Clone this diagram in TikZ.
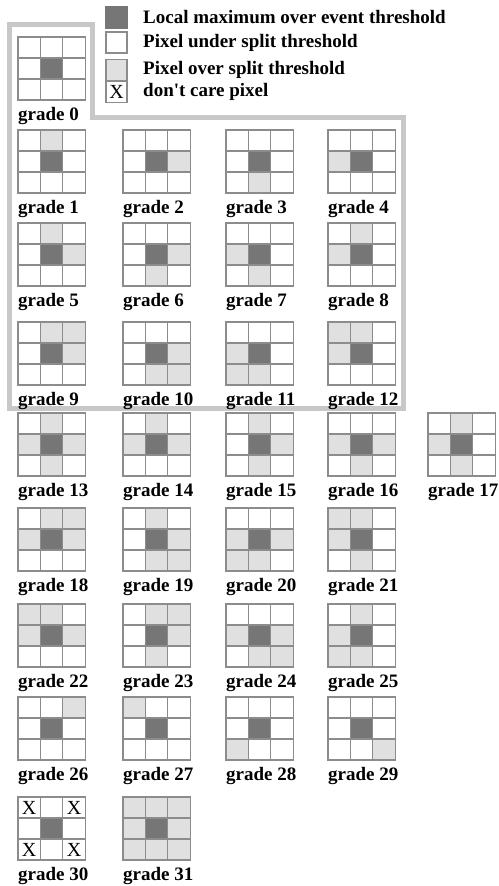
\documentclass[tikz,border=0pt]{standalone}
\usepackage{fontspec}
\setmainfont{Liberation Serif}
\usetikzlibrary{positioning}
\definecolor{gitter}{RGB}{140,140,140}
\definecolor{maxpix}{RGB}{118,118,118}
\definecolor{overpix}{RGB}{224,224,224}
\definecolor{rahmen}{RGB}{200,200,200}

% one 3x3 pattern: #1 grade, #2/#3 upper left corner, #4 cells row by row
\newcommand{\gradegrid}[4]{%
  \foreach \c [count=\i from 0] in {#4} {
    \pgfmathtruncatemacro{\col}{mod(\i,3)}
    \pgfmathtruncatemacro{\row}{div(\i,3)}
    \node[cell, cell\c] (g#1-\i) at ({#2+(\col+0.5)*22.4}, {#3+(\row+0.5)*21}) {};
  }
  \node[gradelabel] (lab#1) at ([yshift=-7pt]g#1-6.south west) {grade #1};
}

\begin{document}
\begin{tikzpicture}[x=1pt, y=-1pt,
    cell/.style={draw=gitter, line width=1.2pt, minimum width=22.4pt,
        minimum height=21pt, inner sep=0pt, outer sep=0pt},
    cellw/.style={fill=white},
    cellg/.style={fill=overpix},
    celld/.style={fill=maxpix},
    cellx/.style={fill=white, label={[xmark]center:X}},
    xmark/.style={inner sep=0pt, font=\fontsize{20}{20}\selectfont},
    gradelabel/.style={anchor=north west, inner sep=0pt,
        font=\fontsize{19}{19}\selectfont\bfseries},
    keybox/.style={cell, minimum width=21pt},
    keytext/.style={inner sep=0pt, font=\fontsize{19}{19}\selectfont\bfseries},
]
\useasboundingbox (0,0) rectangle (498,886);

% Rahmen um grade 0 bis 12
\draw[rahmen, line width=5pt] (9.5,24.5) -- (92.5,24.5) -- (92.5,117.5)
    -- (403,117.5) -- (403,408) -- (9.5,408) -- cycle;

% Legende
\node[keybox, celld, draw=maxpix] (keymax) at (116.5,17.5) {};
\node[keybox, cellw] (keyunder) at (116.5,42.5) {};
\node[keybox, cellg] (keyover) at (116.5,70) {};
\node[keybox, cellx] (keyany) at (116.5,92) {};
\node[keytext, right=16pt of keymax] (txtmax) {Local maximum over event threshold};
\node[keytext, right=16pt of keyunder] (txtunder) {Pixel under split threshold};
\node[keytext, right=16pt of keyover] (txtover) {Pixel over split threshold};
\node[keytext, right=16pt of keyany] (txtany) {don\textquotesingle t care pixel};

% Muster
\gradegrid{0}{18}{37}{w,w,w,w,d,w,w,w,w}

\gradegrid{1}{18}{130}{w,g,w,w,d,w,w,w,w}
\gradegrid{2}{123}{130}{w,w,w,w,d,g,w,w,w}
\gradegrid{3}{226}{130}{w,w,w,w,d,w,w,g,w}
\gradegrid{4}{328}{130}{w,w,w,g,d,w,w,w,w}

\gradegrid{5}{18}{223}{w,g,w,w,d,g,w,w,w}
\gradegrid{6}{123}{223}{w,w,w,w,d,g,w,g,w}
\gradegrid{7}{226}{223}{w,w,w,g,d,w,w,g,w}
\gradegrid{8}{328}{223}{w,g,w,g,d,w,w,w,w}

\gradegrid{9}{18}{322}{w,g,g,w,d,g,w,w,w}
\gradegrid{10}{123}{322}{w,w,w,w,d,g,w,g,g}
\gradegrid{11}{226}{322}{w,w,w,g,d,w,g,g,w}
\gradegrid{12}{328}{322}{g,g,w,g,d,w,w,w,w}

\gradegrid{13}{18}{413}{w,g,w,g,d,g,w,g,w}
\gradegrid{14}{123}{413}{w,g,w,g,d,g,w,w,w}
\gradegrid{15}{226}{413}{w,g,w,w,d,g,w,g,w}
\gradegrid{16}{328}{413}{w,w,w,g,d,g,w,g,w}
\gradegrid{17}{428}{413}{w,g,w,g,d,w,w,g,w}

\gradegrid{18}{18}{508}{w,g,g,g,d,g,w,w,w}
\gradegrid{19}{123}{508}{w,g,w,w,d,g,w,g,g}
\gradegrid{20}{226}{508}{w,w,w,g,d,g,g,g,w}
\gradegrid{21}{328}{508}{g,g,w,g,d,w,w,g,w}

\gradegrid{22}{18}{604}{g,g,w,g,d,g,w,w,w}
\gradegrid{23}{123}{604}{w,g,g,w,d,g,w,g,w}
\gradegrid{24}{226}{604}{w,w,w,g,d,g,w,g,g}
\gradegrid{25}{328}{604}{w,g,w,g,d,w,g,g,w}

\gradegrid{26}{18}{697}{w,w,g,w,d,w,w,w,w}
\gradegrid{27}{123}{697}{g,w,w,w,d,w,w,w,w}
\gradegrid{28}{226}{697}{w,w,w,w,d,w,g,w,w}
\gradegrid{29}{328}{697}{w,w,w,w,d,w,w,w,g}

\gradegrid{30}{18}{797}{x,w,x,w,d,w,x,w,x}
\gradegrid{31}{123}{797}{g,g,g,g,d,g,g,g,g}

\end{tikzpicture}
\end{document}
